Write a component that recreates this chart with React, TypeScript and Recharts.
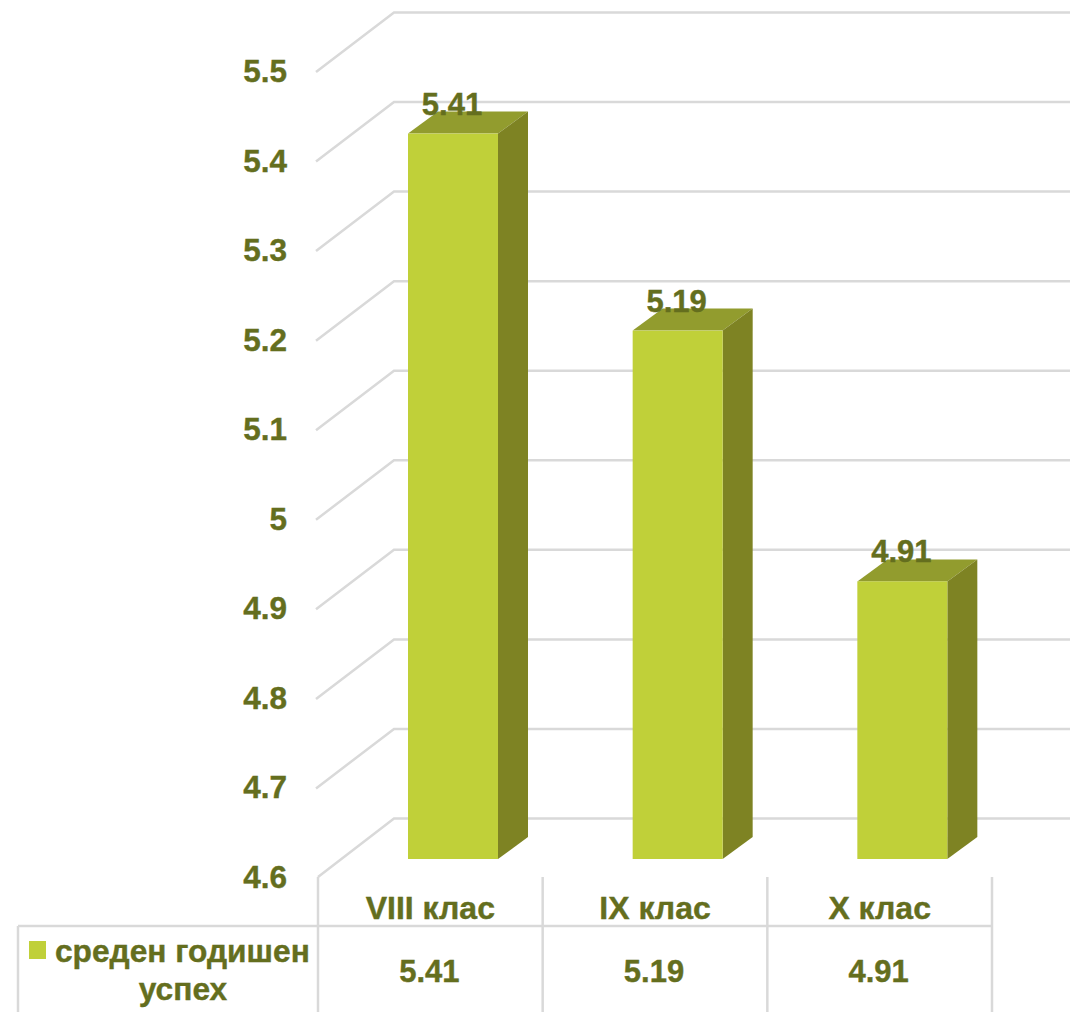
import React from "react";
import { BarChart, Bar, XAxis, YAxis, LabelList, CartesianGrid } from "recharts";

const categories = ["VIII клас", "IX клас", "X клас"];
const values = [5.41, 5.19, 4.91];
const yTicks = [4.6, 4.7, 4.8, 4.9, 5.0, 5.1, 5.2, 5.3, 5.4, 5.5];
const seriesName = ["среден годишен", "успех"];
const data = categories.map((c, i) => ({ name: c, value: values[i] }));

const TEXT = "#646e1e";
const GRID = "#d9d9d9";
const FONT = "'Liberation Sans', Arial, sans-serif";
const LEFT = 318;
const RIGHT = 992;
const FLOOR = 877;
const WALL_DX = 76;
const WALL_DY = 58.5;
const BAR_DX = 23;
const BAR_DY = 18;
const SIDE_DX = 30;
const SIDE_DY = 22;
const TABLE_Y = 926;
const TABLE_BOTTOM = 1012;
const LINE_W = 2.5;
const textStyle = { fontFamily: FONT, fontWeight: 700, fill: TEXT, stroke: TEXT, strokeWidth: 0.4 };

const WallLine = (p: any) => {
  const y = p.y1;
  const isFloor = Math.abs(y - FLOOR) < 1;
  const startX = isFloor ? LEFT : LEFT - 2;
  return (
    <polyline
      key={`wall-${y}`}
      points={`${startX},${y + (isFloor ? 0 : 1)} ${LEFT + WALL_DX},${y - WALL_DY} ${RIGHT + WALL_DX + 2},${y - WALL_DY}`}
      fill="none"
      stroke={GRID}
      strokeWidth={LINE_W}
    />
  );
};

const YTick = (p: any) => {
  const { y, payload } = p;
  return (
    <text x={287} y={y + 11} textAnchor="end" fontSize={31.5} style={textStyle}>
      {String(Number(payload.value))}
    </text>
  );
};

const XTick = (p: any) => {
  const { x, payload, index } = p;
  const step = (RIGHT - LEFT) / categories.length;
  const cellRight = x + step / 2;
  return (
    <g>
      <line x1={cellRight} x2={cellRight} y1={FLOOR} y2={TABLE_BOTTOM} stroke={GRID} strokeWidth={LINE_W} />
      <text x={x} y={919} textAnchor="middle" fontSize={32} style={textStyle}>
        {payload.value}
      </text>
      <text x={x - 1} y={982} textAnchor="middle" fontSize={31} style={textStyle}>
        {values[index]}
      </text>
    </g>
  );
};

const Bar3D = (p: any) => {
  const { x, y, width, height } = p;
  const l = x + BAR_DX;
  const r = l + width;
  const t = y - BAR_DY;
  const b = y + height - BAR_DY;
  return (
    <g>
      <polygon points={`${l},${t} ${l + SIDE_DX},${t - SIDE_DY} ${r + SIDE_DX},${t - SIDE_DY} ${r},${t}`} fill="#929c2e" />
      <polygon points={`${r},${t} ${r + SIDE_DX},${t - SIDE_DY} ${r + SIDE_DX},${b - SIDE_DY} ${r},${b}`} fill="#7e8323" />
      <rect x={l} y={t} width={width} height={b - t} fill="#c0d039" />
    </g>
  );
};

const TopLabel = (p: any) => {
  const { x, y, width, value } = p;
  return (
    <text x={x + width / 2 + BAR_DX - 1} y={y - BAR_DY - 19} textAnchor="middle" fontSize={31} style={textStyle}>
      {value}
    </text>
  );
};

export default function App() {
  return (
    <div style={{ position: "absolute", left: 0, top: 0, width: 1082, height: 1012, overflow: "hidden", background: "#fff" }}>
      <BarChart
        width={1082}
        height={1012}
        data={data}
        margin={{ top: 71, right: 1082 - RIGHT, bottom: 0, left: 0 }}
      >
        <CartesianGrid vertical={false} horizontal={WallLine} />
        <YAxis
          type="number"
          width={LEFT}
          domain={[4.6, 5.5]}
          ticks={yTicks}
          interval={0}
          axisLine={false}
          tickLine={false}
          tick={YTick}
        />
        <XAxis
          dataKey="name"
          height={1012 - FLOOR}
          interval={0}
          axisLine={false}
          tickLine={false}
          tick={XTick}
        />
        <Bar dataKey="value" isAnimationActive={false} shape={Bar3D} barSize={90}>
          <LabelList dataKey="value" content={TopLabel} />
        </Bar>
        <g>
          <line x1={LEFT} x2={LEFT} y1={FLOOR} y2={TABLE_BOTTOM} stroke={GRID} strokeWidth={LINE_W} />
          <line x1={18} x2={RIGHT + 1} y1={TABLE_Y} y2={TABLE_Y} stroke={GRID} strokeWidth={LINE_W} />
          <line x1={18} x2={18} y1={TABLE_Y} y2={TABLE_BOTTOM} stroke={GRID} strokeWidth={LINE_W} />
          <rect x={29} y={941} width={17} height={18} fill="#c0d039" />
          <text x={55} y={962} fontSize={31.7} style={textStyle}>
            {seriesName[0]}
          </text>
          <text x={183} y={1000} textAnchor="middle" fontSize={31.7} style={textStyle}>
            {seriesName[1]}
          </text>
        </g>
      </BarChart>
    </div>
  );
}
